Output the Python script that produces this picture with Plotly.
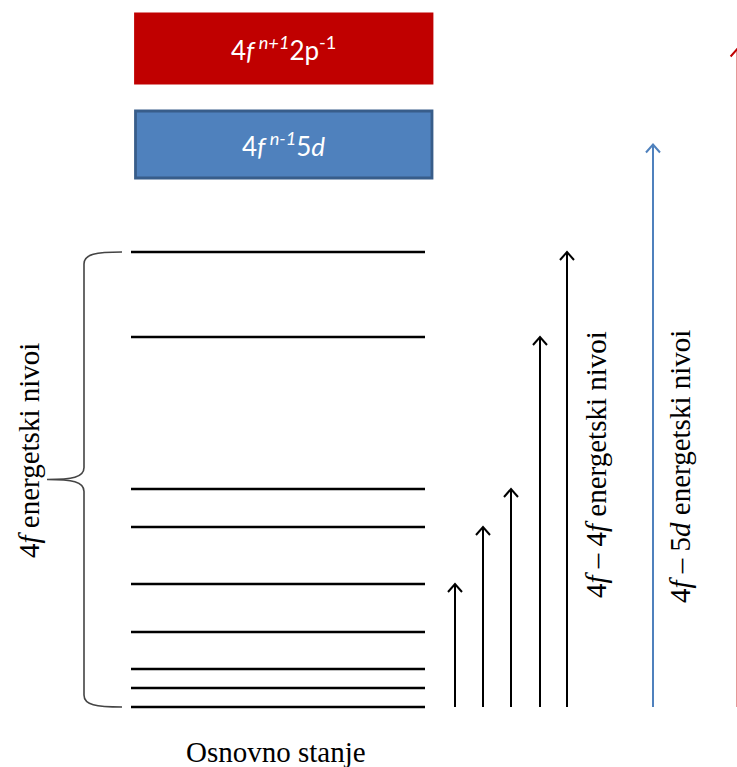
import plotly.graph_objects as go

# ---- data (relative energy, arbitrary units; ground state = 0) ----
levels_4f = [0, 19, 38, 75, 123, 180, 218, 370, 455]
ff_targets = [123, 180, 218, 370, 455]
excited_labels = ["4<i>f</i><sup><i> n+1</i></sup>2p<sup>-1</sup>",
                  "4<i>f</i><sup><i> n-1</i></sup>5<i>d</i>"]
excited_centers = [658.5, 562.5]
excited_halfwidth = [34.5, 33.5]
excited_fill = ["#c00000", "#4f81bd"]
excited_edge = ["#c00000", "#385d8a"]
ground_label = "Osnovno stanje"
bracket_label = "4<i>f</i> energetski nivoi"
ff_label = "4<i>f</i> – 4<i>f</i> energetski nivoi"
fd_label = "4<i>f</i> – 5<i>d</i> energetski nivoi"

SERIF = "Liberation Serif, Times New Roman, serif"
SANS = "Lato, Open Sans, sans-serif"

fig = go.Figure()

# level lines
LX0, LX1 = 131, 425
xs, ys = [], []
for e in levels_4f:
    xs += [LX0, LX1, None]
    ys += [e, e, None]
fig.add_trace(go.Scatter(x=xs, y=ys, mode="lines",
                         line=dict(color="black", width=2.4),
                         hoverinfo="skip", showlegend=False))

bot = min(levels_4f)
top = max(levels_4f)


def arrows(xpos, targets, color, width=2):
    ax_, ay_ = [], []
    for xa, t in zip(xpos, targets):
        ax_ += [xa, xa, None, xa - 7, xa, xa + 7, None]
        ay_ += [bot, t, None, t - 8, t, t - 8, None]
    fig.add_trace(go.Scatter(x=ax_, y=ay_, mode="lines",
                             line=dict(color=color, width=width),
                             hoverinfo="skip", showlegend=False))


# 4f-4f transition arrows
arrows([455, 483, 511, 540, 567], ff_targets, "black")
# 4f-5d arrow
arrows([653], [excited_centers[1]], "#4f81bd")
# charge-transfer arrow at the right edge (mostly cut off)
arrows([737.6], [excited_centers[0]], "#c00000")

shapes = []
annotations = []

# excited-state boxes
BX0, BX1 = 135.5, 432
for lab, c, h, fc, ec in zip(excited_labels, excited_centers, excited_halfwidth,
                             excited_fill, excited_edge):
    shapes.append(dict(type="rect", xref="x", yref="y", x0=BX0, x1=BX1,
                       y0=c - h, y1=c + h, fillcolor=fc,
                       line=dict(color=ec, width=2.8), layer="below"))
    annotations.append(dict(x=(BX0 + BX1) / 2, y=c, xref="x", yref="y",
                            text=lab, showarrow=False,
                            font=dict(family=SANS, size=26, color="white")))

# curly bracket around the 4f levels
mid = (top + bot) / 2
bx_end, bx_v, bx_tip = 122, 84, 47
path = (f"M {bx_end},{top} C {bx_v+12},{top} {bx_v},{top-2} {bx_v},{top-12} "
        f"L {bx_v},{mid+12} C {bx_v},{mid+2} {bx_v-12},{mid} {bx_tip},{mid} "
        f"C {bx_v-12},{mid} {bx_v},{mid-2} {bx_v},{mid-12} "
        f"L {bx_v},{bot+12} C {bx_v},{bot+2} {bx_v+12},{bot} {bx_end},{bot}")
shapes.append(dict(type="path", xref="x", yref="y", path=path,
                   line=dict(color="#444444", width=1.6)))

# texts
annotations.append(dict(x=29, y=256, xref="x", yref="y", text=bracket_label,
                        textangle=-90, showarrow=False,
                        font=dict(family=SERIF, size=29, color="black")))
annotations.append(dict(x=596, y=242, xref="x", yref="y", text=ff_label,
                        textangle=-90, showarrow=False,
                        font=dict(family=SERIF, size=29, color="black")))
annotations.append(dict(x=680, y=240, xref="x", yref="y", text=fd_label,
                        textangle=-90, showarrow=False,
                        font=dict(family=SERIF, size=29, color="black")))
annotations.append(dict(x=276, y=-45, xref="x", yref="y", text=ground_label,
                        showarrow=False,
                        font=dict(family=SERIF, size=29, color="black")))

fig.update_layout(
    width=737, height=767, margin=dict(l=0, r=0, t=0, b=0),
    paper_bgcolor="white", plot_bgcolor="white",
    xaxis=dict(range=[0, 737], visible=False, fixedrange=True),
    yaxis=dict(range=[-60, 707], visible=False, fixedrange=True),
    shapes=shapes, annotations=annotations, showlegend=False,
)

fig.write_html("out.html", config={"displayModeBar": False},
               post_script="document.body.style.margin='0';")
